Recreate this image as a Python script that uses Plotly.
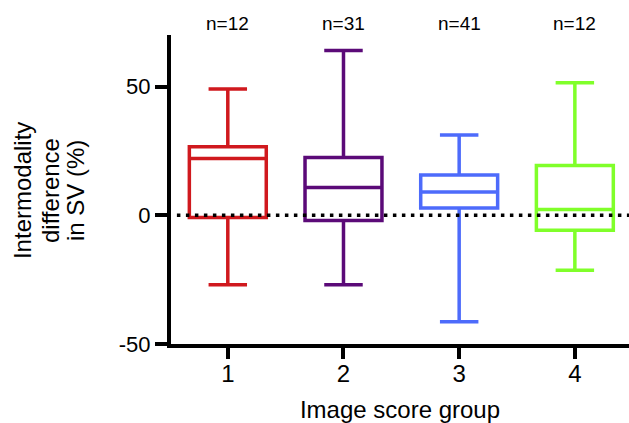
import plotly.graph_objects as go

groups = [1, 2, 3, 4]
counts = ["n=12", "n=31", "n=41", "n=12"]
lower_whisker = [-27, -27, -41.4, -21.4]
q1 = [-0.9, -2.0, 2.8, -5.8]
median = [22.0, 10.8, 9.0, 2.2]
q3 = [26.6, 22.4, 15.6, 19.3]
upper_whisker = [49.0, 64.0, 31.2, 51.5]
colors = ["#D0191E", "#5B0A78", "#4D6BFB", "#80FF2A"]
y_ticks = [-50, 0, 50]
y_tick_text = ["-50", "0", "50"]
y_title_lines = ["Intermodality", "difference", "in SV (%)"]

FONT = "Liberation Sans, Arial, sans-serif"

fig = go.Figure()
for i, g in enumerate(groups):
    fig.add_trace(go.Box(
        x=[g], q1=[q1[i]], median=[median[i]], q3=[q3[i]],
        lowerfence=[lower_whisker[i]], upperfence=[upper_whisker[i]],
        width=0.665, whiskerwidth=0.5,
        line=dict(color=colors[i], width=3.5),
        fillcolor="rgba(255,255,255,0)",
        boxpoints=False, showlegend=False, hoverinfo="skip",
    ))

# dotted zero line
fig.add_shape(type="line", xref="x", yref="y", x0=0.56, x1=4.5, y0=0, y1=0,
              line=dict(color="black", width=3.5, dash="3.5px,5.5px"), layer="above")

for g, c in zip(groups, counts):
    fig.add_annotation(x=g, y=1.0, xref="x", yref="paper", yshift=12, yanchor="middle",
                       text=c, showarrow=False, font=dict(family=FONT, size=19, color="black"))

for line, shift in zip(y_title_lines, [-149, -121, -96]):
    fig.add_annotation(x=0, y=0.495, xref="paper", yref="paper", xanchor="center", yanchor="middle",
                       xshift=shift, textangle=-90, showarrow=False, text=line,
                       font=dict(family=FONT, size=24, color="black"))

fig.update_layout(
    width=629, height=423,
    margin=dict(l=171, r=0, t=35, b=79),
    paper_bgcolor="white", plot_bgcolor="white",
    boxmode="overlay",
    font=dict(family=FONT, color="black"),
    xaxis=dict(
        range=[0.509, 4.468], tickvals=groups, ticktext=[str(g) for g in groups],
        showgrid=False, zeroline=False, showline=True, linecolor="black", linewidth=4,
        ticks="outside", ticklen=11, tickwidth=4, tickcolor="black",
        tickfont=dict(family=FONT, size=24), ticklabelstandoff=-6,
        title=dict(text="Image score group", font=dict(family=FONT, size=24), standoff=20),
    ),
    yaxis=dict(
        range=[-50, 70], tickvals=y_ticks, ticktext=y_tick_text,
        showgrid=False, zeroline=False, showline=True, linecolor="black", linewidth=4,
        ticks="outside", ticklen=12, tickwidth=4, tickcolor="black",
        tickfont=dict(family=FONT, size=22),
    ),
)

fig.write_html("out.html")
